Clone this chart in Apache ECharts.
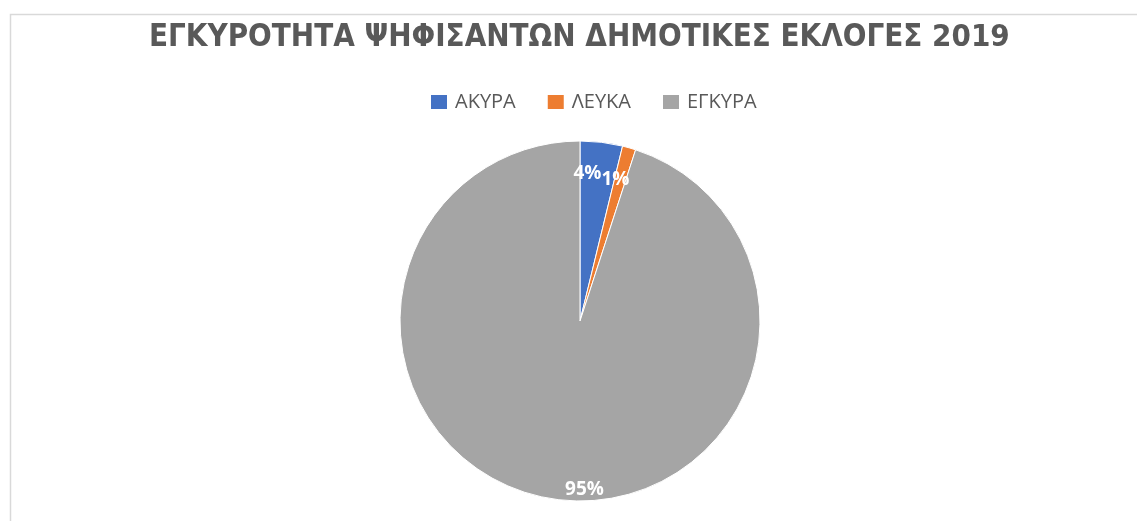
<!DOCTYPE html>
<html>
<head>
<meta charset="utf-8">
<script src="https://cdn.jsdelivr.net/npm/echarts@6/dist/echarts.min.js"></script>
<style>
html,body{margin:0;padding:0;background:#fff;}
#c{width:1137px;height:521px;}
</style>
</head>
<body>
<div id="c"></div>
<script>
const titleText = 'ΕΓΚΥΡΟΤΗΤΑ ΨΗΦΙΣΑΝΤΩΝ ΔΗΜΟΤΙΚΕΣ ΕΚΛΟΓΕΣ 2019';
const categories = ['ΑΚΥΡΑ', 'ΛΕΥΚΑ', 'ΕΓΚΥΡΑ'];
const values = [3.8, 1.2, 95.0];
const colors = ['#4472C4', '#ED7D31', '#A5A5A5'];
const labelNudge = [[-12, 14], [-9, 15], [30, 8]];

const chart = echarts.init(document.getElementById('c'));
chart.setOption({
  animation: false,
  color: colors,
  graphic: [{
    type: 'polyline',
    shape: { points: [[10.5, 530], [10.5, 14.5], [1140, 14.5]] },
    style: { stroke: '#d9d9d9', lineWidth: 1.5, fill: null }
  }],
  title: {
    text: titleText,
    left: 144,
    top: 17,
    textStyle: { fontFamily: 'DejaVu Sans Condensed', fontWeight: 'bold', fontSize: 31, color: '#595959' }
  },
  legend: {
    top: 87,
    left: 424,
    itemWidth: 18,
    itemHeight: 16,
    itemGap: 30,
    icon: 'rect',
    textStyle: { fontFamily: 'Open Sans', fontSize: 20, color: '#595959', padding: [0, 0, 0, 2] },
    data: categories
  },
  series: [{
    type: 'pie',
    center: [580, 321],
    radius: [0, 180],
    startAngle: 90,
    clockwise: true,
    avoidLabelOverlap: false,
    itemStyle: { borderColor: '#fff', borderWidth: 1 },
    data: categories.map((n, i) => ({ name: n, value: values[i] })),
    label: { show: false },
    labelLine: { show: false },
    emphasis: { disabled: true }
  }, {
    type: 'pie',
    center: [580, 321],
    radius: [130, 190],
    startAngle: 90,
    clockwise: true,
    silent: true,
    avoidLabelOverlap: false,
    legendHoverLink: false,
    itemStyle: { color: 'rgba(0,0,0,0)' },
    data: categories.map((n, i) => ({ name: n, value: values[i] })),
    label: {
      show: true,
      position: 'inside',
      formatter: p => Math.round(p.percent) + '%',
      color: '#fff',
      fontFamily: 'Open Sans',
      fontWeight: 'bold',
      fontSize: 19
    },
    labelLayout: p => ({ dx: labelNudge[p.dataIndex][0], dy: labelNudge[p.dataIndex][1] }),
    labelLine: { show: false },
    emphasis: { disabled: true }
  }]
});
</script>
</body>
</html>
